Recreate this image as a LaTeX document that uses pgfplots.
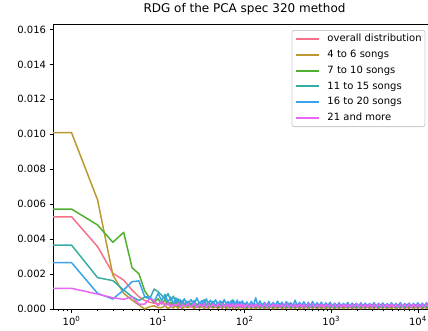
\documentclass[border=0pt]{standalone}
\usepackage{fontspec}
\setmainfont{DejaVu Sans}
\usepackage{pgfplots}
\usepackage{pgfplotstable}
\pgfplotsset{compat=1.18}
\definecolor{huslA}{HTML}{F77189}
\definecolor{huslB}{HTML}{BB9832}
\definecolor{huslC}{HTML}{50B131}
\definecolor{huslD}{HTML}{36ADA4}
\definecolor{huslE}{HTML}{3BA3EC}
\definecolor{huslF}{HTML}{E866F4}
\definecolor{legframe}{HTML}{CCCCCC}
\pgfplotstableread{
x a b c d e f
0.1 52.9e-4 101e-4 57.3e-4 36.7e-4 26.7e-4 12.0e-4
1 52.9e-4 101e-4 57.3e-4 36.7e-4 26.7e-4 12.0e-4
2 35.8e-4 62.5e-4 48.2e-4 18.1e-4 9.1e-4 8.7e-4
3 20.6e-4 19.6e-4 38.3e-4 16.4e-4 5.9e-4 6.6e-4
4 16.7e-4 9.1e-4 44.0e-4 11.0e-4 11.0e-4 5.7e-4
5 11.0e-4 5.3e-4 23.8e-4 7.2e-4 15.8e-4 7.2e-4
6 7.2e-4 2.5e-4 20.3e-4 5.0e-4 16.2e-4 2.9e-4
7 5.0e-4 0.2e-4 10.5e-4 7.0e-4 7.2e-4 3.0e-4
8 4.0e-4 1.5e-4 6.3e-4 6.0e-4 7.0e-4 6.0e-4
9 3.5e-4 2.0e-4 4.0e-4 11.6e-4 4.5e-4 5.0e-4
10 3.0e-4 1.0e-4 6.0e-4 10.0e-4 9.0e-4 2.0e-4
11 4.5e-4 1.0e-4 3.0e-4 8.0e-4 5.0e-4 4.5e-4
12 3.0e-4 2.0e-4 5.5e-4 6.0e-4 8.5e-4 2.0e-4
13 4.0e-4 0.5e-4 2.5e-4 9.0e-4 4.0e-4 3.5e-4
14 2.5e-4 1.5e-4 4.0e-4 5.0e-4 7.0e-4 1.5e-4
15 3.5e-4 0.8e-4 2.0e-4 7.5e-4 3.0e-4 3.0e-4
16 2.0e-4 2.2e-4 4.5e-4 4.0e-4 6.5e-4 2.0e-4
17 3.0e-4 0.6e-4 1.5e-4 6.0e-4 3.5e-4 3.5e-4
18 2.5e-4 1.8e-4 3.5e-4 3.5e-4 5.5e-4 1.0e-4
19 3.2e-4 0.4e-4 2.0e-4 5.0e-4 2.5e-4 3.0e-4
20 2.0e-4 1.6e-4 3.0e-4 3.0e-4 6.0e-4 1.5e-4
22 2.8e-4 0.9e-4 1.8e-4 4.5e-4 3.0e-4 3.2e-4
24 2.0e-4 2.0e-4 3.5e-4 2.5e-4 5.5e-4 1.2e-4
26 3.1e-4 0.5e-4 1.5e-4 5.0e-4 2.5e-4 3.5e-4
28 1.8e-4 1.5e-4 3.0e-4 2.0e-4 6.5e-4 1.0e-4
30 2.9e-4 0.7e-4 1.2e-4 4.0e-4 3.0e-4 3.0e-4
32 1.9e-4 1.8e-4 2.8e-4 2.5e-4 5.0e-4 1.4e-4
34 3.0e-4 0.4e-4 1.6e-4 5.5e-4 2.2e-4 3.3e-4
36 2.1e-4 1.2e-4 2.6e-4 2.0e-4 6.0e-4 1.1e-4
38 2.8e-4 0.6e-4 1.4e-4 4.2e-4 2.8e-4 3.1e-4
40 1.9e-4 1.5e-4 2.4e-4 2.4e-4 5.2e-4 1.3e-4
43 2.7e-4 0.8e-4 1.3e-4 4.6e-4 3.0e-4 3.0e-4
46 1.8e-4 1.4e-4 2.5e-4 2.2e-4 5.4e-4 1.2e-4
49 2.9e-4 0.5e-4 1.1e-4 3.8e-4 2.6e-4 3.2e-4
52 1.7e-4 1.3e-4 2.3e-4 2.0e-4 4.8e-4 1.0e-4
55 2.6e-4 0.6e-4 1.4e-4 4.4e-4 2.4e-4 3.1e-4
58 1.9e-4 1.6e-4 2.2e-4 1.8e-4 5.6e-4 1.3e-4
61 2.8e-4 0.4e-4 1.2e-4 3.6e-4 2.9e-4 3.0e-4
64 1.6e-4 1.2e-4 2.4e-4 2.1e-4 4.5e-4 1.1e-4
67 2.7e-4 0.7e-4 1.0e-4 4.0e-4 2.3e-4 3.2e-4
70 1.8e-4 1.4e-4 2.1e-4 1.9e-4 5.0e-4 1.2e-4
73 2.6e-4 0.5e-4 1.3e-4 5.4e-4 2.7e-4 3.0e-4
76 1.7e-4 1.5e-4 2.3e-4 2.2e-4 4.6e-4 1.0e-4
79 2.8e-4 0.6e-4 1.1e-4 3.8e-4 2.2e-4 3.1e-4
82 1.6e-4 1.3e-4 2.2e-4 1.7e-4 5.3e-4 1.3e-4
85 2.7e-4 0.4e-4 1.2e-4 3.5e-4 2.6e-4 3.0e-4
88 1.8e-4 1.6e-4 2.0e-4 2.0e-4 4.4e-4 1.1e-4
91 2.6e-4 0.7e-4 1.3e-4 3.2e-4 2.4e-4 3.2e-4
94 1.7e-4 1.2e-4 2.1e-4 1.9e-4 4.9e-4 1.2e-4
97 2.8e-4 0.5e-4 1.0e-4 3.6e-4 2.8e-4 3.0e-4
100 1.3e-4 1.2e-4 2.0e-4 3.2e-4 2.0e-4 1.0e-4
106 2.6e-4 0.4e-4 0.9e-4 1.6e-4 4.2e-4 3.0e-4
112 1.2e-4 1.3e-4 2.1e-4 2.9e-4 1.8e-4 1.1e-4
119 2.5e-4 0.5e-4 0.8e-4 1.5e-4 4.6e-4 3.1e-4
126 1.4e-4 1.4e-4 1.9e-4 3.1e-4 2.2e-4 0.9e-4
134 2.7e-4 0.3e-4 1.0e-4 1.7e-4 6.6e-4 3.0e-4
142 1.1e-4 1.2e-4 2.2e-4 2.7e-4 2.0e-4 1.2e-4
150 2.4e-4 0.6e-4 0.8e-4 1.4e-4 4.8e-4 2.9e-4
159 1.3e-4 1.3e-4 2.0e-4 3.0e-4 1.9e-4 1.0e-4
169 2.6e-4 0.4e-4 0.9e-4 1.6e-4 4.0e-4 3.1e-4
179 1.2e-4 1.1e-4 1.9e-4 2.6e-4 2.1e-4 1.1e-4
190 2.5e-4 0.5e-4 1.0e-4 1.5e-4 4.5e-4 3.0e-4
201 1.4e-4 1.4e-4 2.1e-4 2.9e-4 1.7e-4 0.9e-4
213 2.7e-4 0.3e-4 0.8e-4 1.6e-4 3.9e-4 3.1e-4
226 1.1e-4 1.2e-4 2.0e-4 2.7e-4 2.2e-4 1.2e-4
240 2.4e-4 0.6e-4 0.9e-4 1.4e-4 4.7e-4 2.9e-4
254 1.3e-4 1.3e-4 1.8e-4 3.3e-4 1.8e-4 1.0e-4
269 2.6e-4 0.4e-4 1.0e-4 1.5e-4 4.1e-4 3.0e-4
285 1.2e-4 1.1e-4 2.1e-4 2.5e-4 2.0e-4 1.1e-4
303 2.5e-4 0.5e-4 0.8e-4 1.6e-4 4.4e-4 3.1e-4
321 1.4e-4 1.4e-4 1.9e-4 3.4e-4 1.9e-4 0.9e-4
340 2.7e-4 0.3e-4 0.9e-4 1.5e-4 3.8e-4 3.0e-4
360 1.1e-4 1.2e-4 2.0e-4 2.6e-4 2.1e-4 1.2e-4
382 2.4e-4 0.6e-4 1.0e-4 1.4e-4 5.2e-4 2.9e-4
405 1.3e-4 1.3e-4 1.8e-4 2.8e-4 1.7e-4 1.0e-4
429 2.6e-4 0.4e-4 0.8e-4 1.6e-4 4.0e-4 3.1e-4
455 1.2e-4 1.1e-4 2.1e-4 2.5e-4 2.2e-4 1.1e-4
482 2.5e-4 0.5e-4 0.9e-4 1.5e-4 4.3e-4 3.0e-4
511 1.4e-4 1.4e-4 1.9e-4 2.7e-4 1.8e-4 0.9e-4
542 2.7e-4 0.3e-4 1.0e-4 1.6e-4 3.9e-4 3.1e-4
574 1.1e-4 1.2e-4 2.0e-4 2.4e-4 2.0e-4 1.2e-4
609 2.4e-4 0.6e-4 0.8e-4 1.4e-4 4.5e-4 2.9e-4
645 1.3e-4 1.3e-4 1.8e-4 2.6e-4 1.9e-4 1.0e-4
684 2.6e-4 0.4e-4 0.9e-4 1.5e-4 3.8e-4 3.0e-4
725 1.2e-4 1.1e-4 2.1e-4 2.5e-4 2.1e-4 1.1e-4
769 2.5e-4 0.5e-4 1.0e-4 1.6e-4 4.1e-4 3.1e-4
815 1.4e-4 1.4e-4 1.9e-4 2.4e-4 1.7e-4 0.9e-4
864 2.7e-4 0.3e-4 0.8e-4 1.5e-4 3.7e-4 3.0e-4
915 1.1e-4 1.2e-4 2.0e-4 2.6e-4 2.2e-4 1.2e-4
970 2.4e-4 0.6e-4 0.9e-4 1.4e-4 4.0e-4 2.9e-4
1030 1.3e-4 1.3e-4 1.8e-4 2.3e-4 1.8e-4 1.0e-4
1090 2.6e-4 0.4e-4 1.0e-4 1.5e-4 3.5e-4 3.0e-4
1160 1.2e-4 1.1e-4 2.1e-4 2.4e-4 2.0e-4 1.1e-4
1230 2.5e-4 0.5e-4 0.8e-4 1.6e-4 3.8e-4 3.1e-4
1300 1.4e-4 1.4e-4 1.9e-4 2.3e-4 1.9e-4 0.9e-4
1380 2.7e-4 0.3e-4 0.9e-4 1.5e-4 3.4e-4 3.0e-4
1460 1.1e-4 1.2e-4 2.0e-4 2.4e-4 2.1e-4 1.2e-4
1550 2.4e-4 0.6e-4 1.0e-4 1.4e-4 3.9e-4 2.9e-4
1640 1.3e-4 1.3e-4 1.8e-4 2.2e-4 1.7e-4 1.0e-4
1740 2.6e-4 0.4e-4 0.8e-4 1.5e-4 3.6e-4 3.0e-4
1840 1.2e-4 1.1e-4 2.1e-4 2.3e-4 2.2e-4 1.1e-4
1950 2.5e-4 0.5e-4 0.9e-4 1.6e-4 3.4e-4 3.1e-4
2070 1.4e-4 1.4e-4 1.9e-4 2.2e-4 1.8e-4 0.9e-4
2190 2.7e-4 0.3e-4 1.0e-4 1.5e-4 3.7e-4 3.0e-4
2330 1.1e-4 1.2e-4 2.0e-4 2.3e-4 2.0e-4 1.2e-4
2470 2.4e-4 0.6e-4 0.8e-4 1.4e-4 3.5e-4 2.9e-4
2610 1.3e-4 1.3e-4 1.8e-4 2.2e-4 1.9e-4 1.0e-4
2770 2.6e-4 0.4e-4 0.9e-4 1.5e-4 3.3e-4 3.0e-4
2940 1.2e-4 1.1e-4 2.1e-4 2.3e-4 2.1e-4 1.1e-4
3110 2.5e-4 0.5e-4 1.0e-4 1.6e-4 3.8e-4 3.1e-4
3300 1.4e-4 1.4e-4 1.9e-4 2.2e-4 1.7e-4 0.9e-4
3500 2.7e-4 0.3e-4 0.8e-4 1.5e-4 3.4e-4 3.0e-4
3710 1.1e-4 1.2e-4 2.0e-4 2.3e-4 2.2e-4 1.2e-4
3930 2.4e-4 0.6e-4 0.9e-4 1.4e-4 3.6e-4 2.9e-4
4170 1.3e-4 1.3e-4 1.8e-4 2.2e-4 1.8e-4 1.0e-4
4420 2.6e-4 0.4e-4 1.0e-4 1.5e-4 3.3e-4 3.0e-4
4680 1.2e-4 1.1e-4 2.1e-4 2.3e-4 2.0e-4 1.1e-4
4960 2.5e-4 0.5e-4 0.8e-4 1.6e-4 3.7e-4 3.1e-4
5260 1.4e-4 1.4e-4 1.9e-4 2.2e-4 1.9e-4 0.9e-4
5580 2.7e-4 0.3e-4 0.9e-4 1.5e-4 3.4e-4 3.0e-4
5910 1.1e-4 1.2e-4 2.0e-4 2.3e-4 2.1e-4 1.2e-4
6270 2.4e-4 0.6e-4 1.0e-4 1.4e-4 3.8e-4 2.9e-4
6640 1.3e-4 1.3e-4 1.8e-4 2.2e-4 1.7e-4 1.0e-4
7040 2.6e-4 0.4e-4 0.8e-4 1.5e-4 3.3e-4 3.0e-4
7470 1.2e-4 1.1e-4 2.1e-4 2.3e-4 2.2e-4 1.1e-4
7910 2.5e-4 0.5e-4 0.9e-4 1.6e-4 3.6e-4 3.1e-4
8390 1.4e-4 1.4e-4 1.9e-4 2.2e-4 1.8e-4 0.9e-4
8890 2.7e-4 0.3e-4 1.0e-4 1.5e-4 3.4e-4 3.0e-4
9430 1.1e-4 1.2e-4 2.0e-4 2.3e-4 2.0e-4 1.2e-4
9990 2.4e-4 0.6e-4 0.8e-4 1.4e-4 3.7e-4 2.9e-4
10600 1.3e-4 1.3e-4 1.8e-4 2.2e-4 1.9e-4 1.0e-4
11200 2.6e-4 0.4e-4 0.9e-4 1.5e-4 3.5e-4 3.0e-4
11900 1.2e-4 1.1e-4 2.1e-4 2.3e-4 2.1e-4 1.1e-4
12600 2.5e-4 0.5e-4 1.0e-4 1.6e-4 3.8e-4 3.1e-4
13400 1.4e-4 1.4e-4 1.9e-4 2.2e-4 1.7e-4 0.9e-4
14200 2.7e-4 0.3e-4 0.8e-4 1.5e-4 3.4e-4 3.0e-4
15000 1.1e-4 1.2e-4 2.0e-4 2.3e-4 2.2e-4 1.2e-4
15900 2.4e-4 0.6e-4 0.9e-4 1.4e-4 3.6e-4 2.9e-4
16800 1.3e-4 1.3e-4 1.8e-4 2.2e-4 1.8e-4 1.0e-4
}\datatable
\begin{document}
\begin{tikzpicture}
\useasboundingbox (0,0) rectangle (428pt,330pt);
\begin{axis}[
  at={(53pt,20.7pt)}, anchor=south west,
  scale only axis, width=383pt, height=285pt,
  xmode=log, log basis x=10,
  xmin=0.611, xmax=16180,
  ymin=0, ymax=0.01629,
  axis line style={line width=0.8pt},
  tick align=outside, xtick pos=bottom, ytick pos=left,
  major tick length=3.5pt, minor tick length=2pt,
  every tick/.style={black, line width=0.8pt},
  every minor tick/.style={black, line width=0.6pt},
  xtick={1,10,100,1000,10000},
  xticklabels={10\textsuperscript{0},10\textsuperscript{1},10\textsuperscript{2},10\textsuperscript{3},10\textsuperscript{4}},
  minor xtick={0.7,0.8,0.9,2,3,4,5,6,7,8,9,20,30,40,50,60,70,80,90,200,300,400,500,600,700,800,900,2000,3000,4000,5000,6000,7000,8000,9000},
  ytick={0,0.002,0.004,0.006,0.008,0.010,0.012,0.014,0.016},
  scaled y ticks=false,
  yticklabel style={/pgf/number format/.cd, fixed, fixed zerofill, precision=3, assume math mode=true},
  tick label style={font=\fontsize{10}{12}\selectfont},
  title={RDG of the PCA spec 320 method},
  title style={at={(0.5,1)}, anchor=base, yshift=5.8pt, font=\fontsize{12}{14}\selectfont},
  legend style={at={(0.6232,0.980)}, anchor=north west, draw=legframe, line width=0.8pt, rounded corners=2pt,
    font=\fontsize{10}{12}\selectfont, inner xsep=3.3pt, inner ysep=3pt, row sep=4pt, column sep=8pt,
    nodes={inner xsep=0pt, inner ysep=1pt, text height=7.5pt, text depth=2.2pt}},
  legend cell align=left,
  legend image code/.code={\draw[#1, draw opacity=1, line width=1.8pt] (0pt,0pt) -- (22.3pt,0pt);},
  every axis plot/.append style={line width=1.5pt, line join=round, no markers},
]
\addplot[color=huslA] table[x=x, y=a] {\datatable};
\addlegendentry{overall distribution}
\addplot[color=huslB] table[x=x, y=b] {\datatable};
\addlegendentry{4 to 6 songs}
\addplot[color=huslC] table[x=x, y=c] {\datatable};
\addlegendentry{7 to 10 songs}
\addplot[color=huslD] table[x=x, y=d] {\datatable};
\addlegendentry{11 to 15 songs}
\addplot[color=huslE] table[x=x, y=e] {\datatable};
\addlegendentry{16 to 20 songs}
\addplot[color=huslF] table[x=x, y=f] {\datatable};
\addlegendentry{21 and more}
\end{axis}
\end{tikzpicture}
\end{document}
